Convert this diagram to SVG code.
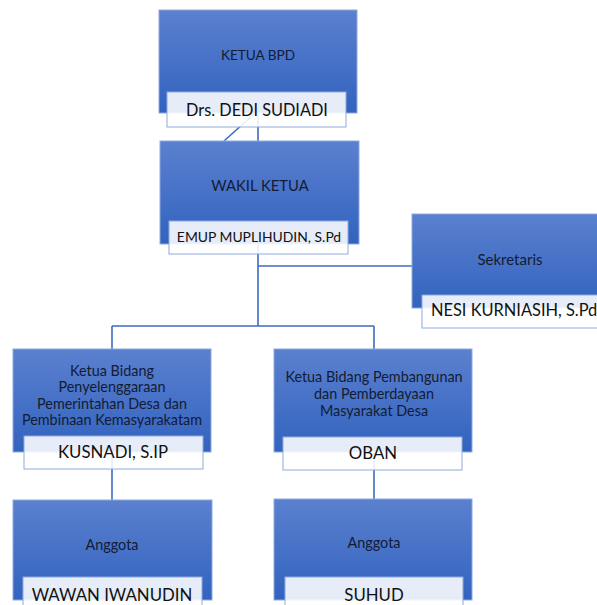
<svg xmlns="http://www.w3.org/2000/svg" width="597" height="605" viewBox="0 0 597 605">
<defs>
<linearGradient id="g" x1="0" y1="0" x2="0" y2="1">
<stop offset="0" stop-color="#5b80cf"/>
<stop offset="1" stop-color="#3263bf"/>
</linearGradient>
<style>
.box{fill:url(#g);stroke:#8eaadb;stroke-width:1}
.lbl{fill:#ffffff;fill-opacity:0.88;stroke:#8eaadb;stroke-width:1}
.t{font-family:Lato,"Open Sans",sans-serif;font-size:14.4px;fill:#131c33;text-anchor:middle}
.n{font-family:Lato,"Open Sans",sans-serif;font-size:16.3px;fill:#111;text-anchor:middle}
.c{stroke:#3e6ac0;stroke-width:1.6;fill:none}
</style>
</defs>
<rect width="597" height="605" fill="#fff"/>
<g id="connectors">
<line class="c" x1="258" y1="113" x2="258" y2="141"/>
<line class="c" x1="224" y1="141" x2="254" y2="114"/>
<line class="c" x1="258" y1="244" x2="258" y2="326"/>
<line class="c" x1="258" y1="266" x2="412" y2="266"/>
<line class="c" x1="112" y1="326" x2="374" y2="326"/>
<line class="c" x1="112" y1="326" x2="112" y2="349"/>
<line class="c" x1="374" y1="326" x2="374" y2="349"/>
<line class="c" x1="112" y1="452" x2="112" y2="500"/>
<line class="c" x1="374" y1="452" x2="374" y2="499"/>
</g>
<g id="ketua">
<rect class="box" x="159" y="10" width="198" height="103"/>
<text class="t" x="258" y="60" style="font-size:13.6px">KETUA BPD</text>
<rect class="lbl" x="167" y="92" width="179" height="35"/>
<text class="n" x="257" y="116">Drs. DEDI SUDIADI</text>
</g>
<g id="wakil">
<rect class="box" x="160" y="141" width="199" height="103"/>
<text class="t" x="260" y="191" style="font-size:14.8px">WAKIL KETUA</text>
<rect class="lbl" x="169" y="221" width="179" height="33"/>
<text class="n" x="259" y="242" style="font-size:13.9px">EMUP MUPLIHUDIN, S.Pd</text>
</g>
<g id="sekretaris">
<rect class="box" x="412" y="214" width="190" height="94"/>
<text class="t" x="510" y="265" style="font-size:15px">Sekretaris</text>
<rect class="lbl" x="422" y="295" width="185" height="33"/>
<text class="n" x="431" y="316" style="text-anchor:start;font-size:16.4px">NESI KURNIASIH, S.Pd</text>
</g>
<g id="bidang1">
<rect class="box" x="13" y="349" width="198" height="103"/>
<text class="t" x="112" y="376">Ketua Bidang</text>
<text class="t" x="112" y="392">Penyelenggaraan</text>
<text class="t" x="112" y="408.5">Pemerintahan Desa dan</text>
<text class="t" x="112" y="425">Pembinaan Kemasyarakatam</text>
<rect class="lbl" x="24" y="436" width="179" height="33"/>
<text class="n" x="113" y="458" style="font-size:16.8px">KUSNADI, S.IP</text>
</g>
<g id="bidang2">
<rect class="box" x="274" y="349" width="198" height="103"/>
<text class="t" x="374" y="382">Ketua Bidang Pembangunan</text>
<text class="t" x="374" y="399">dan Pemberdayaan</text>
<text class="t" x="374" y="416">Masyarakat Desa</text>
<rect class="lbl" x="283" y="437" width="179" height="33"/>
<text class="n" x="373" y="459" style="font-size:16.8px">OBAN</text>
</g>
<g id="anggota1">
<rect class="box" x="13" y="500" width="199" height="100"/>
<text class="t" x="112" y="550">Anggota</text>
<rect class="lbl" x="23" y="577" width="179" height="35"/>
<text class="n" x="112" y="601" style="font-size:16.8px">WAWAN IWANUDIN</text>
</g>
<g id="anggota2">
<rect class="box" x="274" y="499" width="198" height="101"/>
<text class="t" x="374" y="548">Anggota</text>
<rect class="lbl" x="285" y="577" width="178" height="35"/>
<text class="n" x="374" y="601" style="font-size:16.8px">SUHUD</text>
</g>
</svg>
